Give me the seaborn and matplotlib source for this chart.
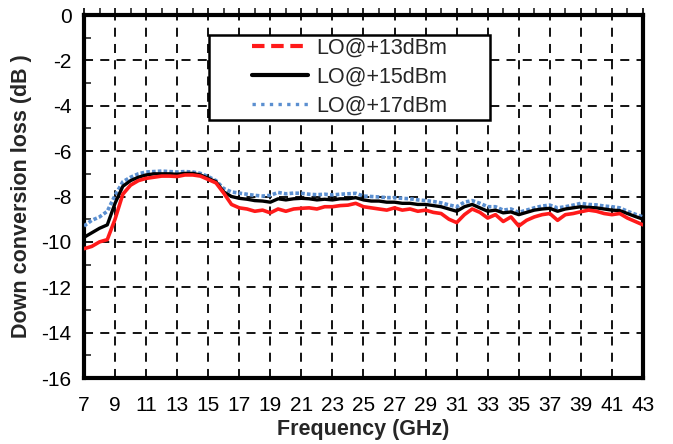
import numpy as np
import pandas as pd
import matplotlib
matplotlib.use("Agg")
import matplotlib.pyplot as plt
from matplotlib.lines import Line2D
from matplotlib.patches import Rectangle
from matplotlib.ticker import MultipleLocator
import seaborn as sns

freq = [7.0, 7.5, 8.0, 8.5, 9.0, 9.5, 10.0, 10.5, 11.0, 11.5, 12.0, 12.5, 13.0, 13.5,
        14.0, 14.5, 15.0, 15.5, 16.0, 16.5, 17.0, 17.5, 18.0, 18.5, 19.0, 19.5, 20.0,
        20.5, 21.0, 21.5, 22.0, 22.5, 23.0, 23.5, 24.0, 24.5, 25.0, 25.5, 26.0, 26.5,
        27.0, 27.5, 28.0, 28.5, 29.0, 29.5, 30.0, 30.5, 31.0, 31.5, 32.0, 32.5, 33.0,
        33.5, 34.0, 34.5, 35.0, 35.5, 36.0, 36.5, 37.0, 37.5, 38.0, 38.5, 39.0, 39.5,
        40.0, 40.5, 41.0, 41.5, 42.0, 42.5, 43.0]

lo13 = [-10.3, -10.2, -10.0, -9.9, -9.0, -7.9, -7.5, -7.3, -7.2, -7.15, -7.1, -7.1, -7.12,
        -7.05, -7.05, -7.1, -7.25, -7.4, -7.85, -8.35, -8.5, -8.55, -8.65, -8.6, -8.72,
        -8.55, -8.65, -8.55, -8.52, -8.5, -8.55, -8.45, -8.45, -8.4, -8.38, -8.3, -8.45,
        -8.5, -8.55, -8.6, -8.5, -8.6, -8.55, -8.65, -8.6, -8.7, -8.75, -9.0, -9.15,
        -8.8, -8.55, -8.7, -8.95, -8.8, -9.1, -8.9, -9.3, -9.05, -8.9, -8.8, -8.75,
        -9.05, -8.8, -8.75, -8.67, -8.6, -8.65, -8.75, -8.8, -8.75, -8.95, -9.1, -9.25]

lo15 = [-9.8, -9.6, -9.4, -9.25, -8.3, -7.55, -7.3, -7.15, -7.05, -7.0, -7.0, -7.0, -7.02,
        -6.98, -6.98, -7.05, -7.2, -7.35, -7.8, -8.0, -8.08, -8.12, -8.18, -8.2, -8.25,
        -8.1, -8.15, -8.1, -8.08, -8.1, -8.15, -8.12, -8.15, -8.1, -8.1, -8.05, -8.15,
        -8.2, -8.2, -8.25, -8.25, -8.3, -8.3, -8.35, -8.35, -8.4, -8.45, -8.55, -8.65,
        -8.45, -8.35, -8.5, -8.65, -8.6, -8.72, -8.68, -8.8, -8.7, -8.6, -8.55, -8.52,
        -8.65, -8.55, -8.5, -8.45, -8.48, -8.5, -8.55, -8.6, -8.62, -8.75, -8.88, -9.0]

lo17 = [-9.3, -9.05, -8.9, -8.65, -7.95, -7.35, -7.15, -7.0, -6.92, -6.9, -6.88, -6.9, -6.92,
        -6.9, -6.92, -6.98, -7.12, -7.3, -7.65, -7.8, -7.85, -7.9, -7.95, -7.98, -7.95,
        -7.82, -7.88, -7.85, -7.86, -7.9, -7.92, -7.9, -7.93, -7.9, -7.88, -7.86, -7.98,
        -8.0, -8.02, -8.05, -8.05, -8.08, -8.1, -8.15, -8.18, -8.22, -8.28, -8.37, -8.45,
        -8.25, -8.18, -8.3, -8.45, -8.45, -8.6, -8.55, -8.7, -8.6, -8.5, -8.42, -8.38,
        -8.5, -8.45, -8.38, -8.3, -8.35, -8.37, -8.42, -8.45, -8.5, -8.65, -8.78, -8.9]

labels = ["LO@+13dBm", "LO@+15dBm", "LO@+17dBm"]
colors = ["#ff1a1a", "#000000", "#5b8fd0"]
xticks = [7, 9, 11, 13, 15, 17, 19, 21, 23, 25, 27, 29, 31, 33, 35, 37, 39, 41, 43]
yticks = [0, -2, -4, -6, -8, -10, -12, -14, -16]

df = pd.DataFrame({
    "freq": freq * 3,
    "loss": lo13 + lo15 + lo17,
    "series": [labels[0]] * len(freq) + [labels[1]] * len(freq) + [labels[2]] * len(freq),
})

sns.set_style("white")
plt.rcParams["font.family"] = ["Liberation Sans", "DejaVu Sans"]
plt.rcParams["axes.unicode_minus"] = False

fig = plt.figure(figsize=(6.73, 4.44), dpi=100)
ax = fig.add_axes([0.1248, 0.1486, 0.8306, 0.8176])

sub17 = df[df.series == labels[2]]
sns.lineplot(data=sub17, x="freq", y="loss", color=colors[2], lw=2.6,
             linestyle=(0, (1, 0.6)), ax=ax, legend=False, zorder=3)
sub15 = df[df.series == labels[1]]
sns.lineplot(data=sub15, x="freq", y="loss", color=colors[1], lw=2.4,
             ax=ax, legend=False, zorder=4)
sub13 = df[df.series == labels[0]]
sns.lineplot(data=sub13, x="freq", y="loss", color=colors[0], lw=2.6,
             ax=ax, legend=False, zorder=5)

ax.set_xlim(7, 43)
ax.set_ylim(-16, 0)
ax.set_xticks(xticks)
ax.set_yticks(yticks)
ax.xaxis.set_minor_locator(MultipleLocator(1))
ax.yaxis.set_minor_locator(MultipleLocator(1))

ax.grid(True, which="major", color="black", linestyle=(0, (5, 4)), lw=1.3)
for s in ax.spines.values():
    s.set_visible(True)
    s.set_color("black")
    s.set_linewidth(3)

ax.tick_params(axis="both", which="major", direction="out", length=5, width=1.2,
               labelsize=15, colors="black", pad=4)
ax.tick_params(axis="y", which="minor", direction="in", length=5, width=1.2, left=True)
ax.tick_params(axis="x", which="minor", direction="out", length=5, width=1.2,
               bottom=False, top=True)
ax.tick_params(axis="x", which="major", top=True, bottom=False, pad=8)

ax.set_xlabel("Frequency (GHz)", fontsize=15.5, fontweight="bold", labelpad=3)
ax.set_ylabel("Down conversion loss (dB )", fontsize=15.5, fontweight="bold", labelpad=7)

# legend box (white, black frame) and entries
box = Rectangle((0.2236, 0.7107), 0.5027, 0.2343, transform=ax.transAxes,
                facecolor="white", edgecolor="black", lw=1.8, zorder=9)
ax.add_patch(box)

handles = [
    Line2D([], [], color=colors[0], lw=3.0, linestyle=(0, (3.0, 1.6))),
    Line2D([], [], color=colors[1], lw=3.0),
    Line2D([], [], color=colors[2], lw=2.4, linestyle=(0, (1, 1.6))),
]
leg = ax.legend(handles, labels, loc="upper left", bbox_to_anchor=(0.300, 0.938),
                fontsize=15.5, frameon=False, handlelength=2.6, handletextpad=0.4,
                borderpad=0, labelspacing=0.38, borderaxespad=0)
leg.set_zorder(10)

fig.savefig("out.png", dpi=100)
